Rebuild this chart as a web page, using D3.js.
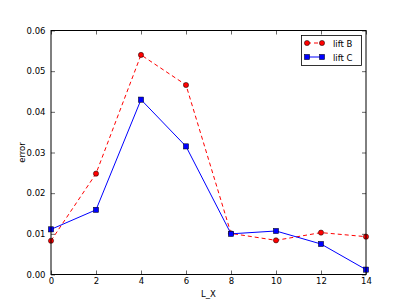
<!DOCTYPE html>
<html><head><meta charset="utf-8">
<script src="https://cdn.jsdelivr.net/npm/d3@7"></script>
<style>body{margin:0;background:#fff}svg{display:block}text{font-family:"DejaVu Sans",sans-serif}</style>
</head><body>
<script>
const xValues = [0, 2, 4, 6, 8, 10, 12, 14];
const liftB = [0.0083, 0.0248, 0.0540, 0.0466, 0.0101, 0.0084, 0.0103, 0.0093];
const liftC = [0.0111, 0.0159, 0.0430, 0.0315, 0.0100, 0.0107, 0.0075, 0.0012];
const xTicks = [0, 2, 4, 6, 8, 10, 12, 14];
const yTicks = [0.00, 0.01, 0.02, 0.03, 0.04, 0.05, 0.06];
const seriesNames = ["lift B", "lift C"];

const W = 407, H = 305;
const m = {l: 51, r: 41, t: 30.5, b: 30.5};
const svg = d3.select("body").append("svg").attr("width", W).attr("height", H);
const x = d3.scaleLinear().domain([0, 14]).range([m.l, W - m.r]);
const y = d3.scaleLinear().domain([0, 0.06]).range([H - m.b, m.t]);

const fs = 8.5;
// ticks inside, all sides
const gx = svg.append("g").attr("transform", `translate(0,${H - m.b})`)
  .call(d3.axisBottom(x).tickValues(xTicks).tickSizeInner(-4).tickSizeOuter(0).tickPadding(3).tickFormat(d3.format("d")));
const gxt = svg.append("g").attr("transform", `translate(0,${m.t})`)
  .call(d3.axisTop(x).tickValues(xTicks).tickSizeInner(-4).tickSizeOuter(0).tickFormat(""));
const gy = svg.append("g").attr("transform", `translate(${m.l},0)`)
  .call(d3.axisLeft(y).tickValues(yTicks).tickSizeInner(-4).tickSizeOuter(0).tickPadding(5.5).tickFormat(d3.format(".2f")));
const gyr = svg.append("g").attr("transform", `translate(${W - m.r},0)`)
  .call(d3.axisRight(y).tickValues(yTicks).tickSizeInner(-4).tickSizeOuter(0).tickFormat(""));
[gx, gxt, gy, gyr].forEach(g => {
  g.select(".domain").remove();
  g.selectAll("line").attr("stroke", "#000").attr("stroke-width", 0.6);
  g.selectAll("text").attr("font-size", fs).attr("fill", "#000").attr("font-family", "DejaVu Sans");
});

const line = d3.line().x((d, i) => x(xValues[i])).y(d => y(d));
svg.append("path").datum(liftB).attr("d", line).attr("fill", "none")
  .attr("stroke", "#ff0000").attr("stroke-width", 1).attr("stroke-dasharray", "4,3");
svg.append("path").datum(liftC).attr("d", line).attr("fill", "none")
  .attr("stroke", "#0000ff").attr("stroke-width", 1);

svg.append("g").selectAll("circle").data(liftB).join("circle")
  .attr("cx", (d, i) => x(xValues[i])).attr("cy", d => y(d)).attr("r", 2.6)
  .attr("fill", "#ff0000").attr("stroke", "#000").attr("stroke-width", 0.5);
svg.append("g").selectAll("rect").data(liftC).join("rect")
  .attr("x", (d, i) => x(xValues[i]) - 2.6).attr("y", d => y(d) - 2.6)
  .attr("width", 5.2).attr("height", 5.2)
  .attr("fill", "#0000ff").attr("stroke", "#000").attr("stroke-width", 0.5);

// frame
svg.append("rect").attr("x", m.l).attr("y", m.t).attr("width", W - m.l - m.r).attr("height", H - m.t - m.b)
  .attr("fill", "none").attr("stroke", "#000").attr("stroke-width", 1);

// axis labels
svg.append("text").attr("x", (m.l + W - m.r) / 2).attr("y", 297).attr("text-anchor", "middle")
  .attr("font-size", fs).text("L_X");
svg.append("text").attr("transform", `translate(25,${(m.t + H - m.b) / 2}) rotate(-90)`)
  .attr("text-anchor", "middle").attr("font-size", fs).text("error");

// legend
const lg = svg.append("g");
lg.append("rect").attr("x", 301.5).attr("y", 35.5).attr("width", 60).attr("height", 30)
  .attr("fill", "#fff").attr("stroke", "#000").attr("stroke-width", 0.8);
const rows = [43, 57];
lg.append("line").attr("x1", 307).attr("x2", 322).attr("y1", rows[0]).attr("y2", rows[0])
  .attr("stroke", "#ff0000").attr("stroke-dasharray", "4,3");
[307, 322].forEach(cx => lg.append("circle").attr("cx", cx).attr("cy", rows[0]).attr("r", 2.6)
  .attr("fill", "#ff0000").attr("stroke", "#000").attr("stroke-width", 0.5));
lg.append("line").attr("x1", 307).attr("x2", 322).attr("y1", rows[1]).attr("y2", rows[1])
  .attr("stroke", "#0000ff");
[307, 322].forEach(cx => lg.append("rect").attr("x", cx - 2.6).attr("y", rows[1] - 2.6).attr("width", 5.2).attr("height", 5.2)
  .attr("fill", "#0000ff").attr("stroke", "#000").attr("stroke-width", 0.5));
seriesNames.forEach((n, i) => lg.append("text").attr("x", 333).attr("y", rows[i] + 3.5)
  .attr("font-size", fs).text(n));
</script>
</body></html>
